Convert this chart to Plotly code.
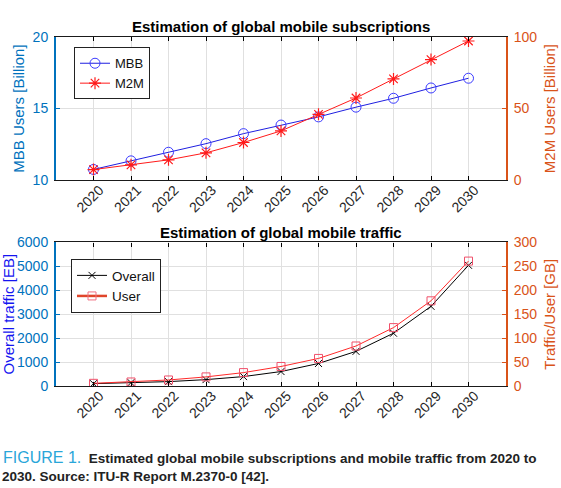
import plotly.graph_objects as go

years = [2020, 2021, 2022, 2023, 2024, 2025, 2026, 2027, 2028, 2029, 2030]
mbb_users = [10.75, 11.35, 11.95, 12.55, 13.25, 13.85, 14.42, 15.1, 15.72, 16.44, 17.12]
m2m_users = [7.4, 10.7, 14.2, 19.1, 26.3, 34.4, 46.0, 57.4, 70.7, 84.2, 97.2]
overall_traffic = [98, 140, 183, 267, 393, 604, 941, 1447, 2206, 3330, 5044]
user_traffic = [5.6, 8.4, 12.6, 19.0, 28.0, 40.8, 57.6, 83.6, 122, 178, 261]
year_labels = [str(y) for y in years]

W, H = 561, 488
L, R, T, B = 56, 55, 36.7, 102
ph = H - T - B
pw = W - L - R

def py(p):  # pixel y -> paper
    return (H - B - p) / ph

def px(p):
    return (p - L) / pw

BLUE = "#0072BD"
ORANGE = "#D95319"
GRID = "#E0E0E0"
FONT = "Liberation Sans, Arial, sans-serif"

fig = go.Figure()
fig.add_trace(go.Scatter(x=years, y=mbb_users, name="MBB", mode="lines+markers",
                         line=dict(color="#1f1fe0", width=1),
                         marker=dict(symbol="circle-open", size=10, color="#3b3bff", line=dict(width=1)),
                         xaxis="x", yaxis="y", legend="legend"))
fig.add_trace(go.Scatter(x=years, y=m2m_users, name="M2M", mode="lines+markers",
                         line=dict(color="#ff1a1a", width=1),
                         marker=dict(symbol="asterisk-open", size=10, color="#ff1a1a", line=dict(width=1.2)),
                         xaxis="x", yaxis="y2", legend="legend"))
fig.add_trace(go.Scatter(x=years, y=overall_traffic, name="Overall", mode="lines+markers",
                         line=dict(color="black", width=1),
                         marker=dict(symbol="x-thin-open", size=7, color="black", line=dict(width=1)),
                         xaxis="x2", yaxis="y3", legend="legend2"))
fig.add_trace(go.Scatter(x=years, y=user_traffic, name="User", mode="lines+markers",
                         line=dict(color="#ff2a2a", width=1),
                         marker=dict(symbol="square-open", size=8, color="#f0506a", line=dict(width=1)),
                         xaxis="x2", yaxis="y4", legend="legend2", showlegend=False))
# legend swatch for "User" (thicker orange-red line as in the reference legend)
fig.add_trace(go.Scatter(x=[None], y=[None], name="User", mode="lines+markers",
                         line=dict(color="#E0452A", width=2.5),
                         marker=dict(symbol="square-open", size=8, color="#F07080", line=dict(width=1)),
                         xaxis="x2", yaxis="y4", legend="legend2"))

xcommon = dict(range=[2019, 2031], tickvals=years, ticktext=year_labels, tickangle=-45,
               ticks="inside", ticklen=4, tickcolor="black", showline=True, linecolor="#1a1a1a",
               linewidth=1.4, mirror="ticks", showgrid=True, gridcolor=GRID, zeroline=False,
               tickfont=dict(family=FONT, size=14, color="#262626"), ticklabelshift=6,
               ticklabelstandoff=-5)

def ycommon(color, rng, dtick, side, grid, title, tcolor, standoff):
    return dict(range=rng, dtick=dtick, side=side, ticks="inside", ticklen=4, tickcolor=color,
                showline=True, linecolor=color, linewidth=2, showgrid=grid, gridcolor=GRID,
                zeroline=False, tickfont=dict(family=FONT, size=14, color=color),
                ticklabelstandoff=3,
                title=dict(text=title, font=dict(family=FONT, size=15, color=tcolor), standoff=standoff))

top_dom = [py(180), 1.0]
bot_dom = [0.0, py(242.3)]

fig.update_layout(
    width=W, height=H, margin=dict(l=L, r=R, t=T, b=B, autoexpand=False),
    paper_bgcolor="white", plot_bgcolor="white", font=dict(family=FONT),
    xaxis=dict(**xcommon, domain=[0, 1], anchor="y"),
    yaxis=dict(**ycommon(BLUE, [10, 20], 5, "left", True, "MBB Users [Billion]", BLUE, 4), domain=top_dom, anchor="x"),
    yaxis2=dict(**ycommon(ORANGE, [0, 100], 50, "right", False, "M2M Users [Billion]", ORANGE, 8),
                overlaying="y", anchor="x"),
    xaxis2=dict(**xcommon, domain=[0, 1], anchor="y3"),
    yaxis3=dict(**ycommon(BLUE, [0, 6000], 1000, "left", True, "Overall traffic [EB]", "#1414F0", 4), domain=bot_dom, anchor="x2"),
    yaxis4=dict(**ycommon(ORANGE, [0, 300], 50, "right", False, "Traffic/User [GB]", ORANGE, 8),
                overlaying="y3", anchor="x2"),
    legend=dict(x=px(74), y=py(47), xanchor="left", yanchor="top", bordercolor="#222", borderwidth=1,
                bgcolor="white", font=dict(family=FONT, size=13, color="#111"), tracegroupgap=0),
    legend2=dict(x=px(71), y=py(259), xanchor="left", yanchor="top", bordercolor="#222", borderwidth=1,
                 bgcolor="white", font=dict(family=FONT, size=13.5, color="#111"), tracegroupgap=0),
    showlegend=True,
    annotations=[
        dict(text="<b>Estimation of global mobile subscriptions</b>", xref="paper", yref="paper",
             x=0.5, y=py(25.7), xanchor="center", yanchor="middle", showarrow=False,
             font=dict(family=FONT, size=15, color="black")),
        dict(text="<b>Estimation of global mobile traffic</b>", xref="paper", yref="paper",
             x=0.5, y=py(232.3), xanchor="center", yanchor="middle", showarrow=False,
             font=dict(family=FONT, size=15, color="black")),
        dict(text="<span style='color:#29A6D9;font-size:16px'>FIGURE 1.</span>  <b>Estimated global mobile subscriptions and mobile traffic from 2020 to</b>",
             xref="paper", yref="paper", x=px(1), y=py(458), xanchor="left", yanchor="middle",
             align="left", showarrow=False, font=dict(family=FONT, size=13.5, color="#222")),
        dict(text="<b>2030. Source: ITU-R Report M.2370-0 [42].</b>",
             xref="paper", yref="paper", x=px(0), y=py(477), xanchor="left", yanchor="middle",
             align="left", showarrow=False, font=dict(family=FONT, size=13.5, color="#222")),
    ],
)

fig.write_html("out.html", config={"displayModeBar": False},
               post_script="document.body.style.margin='0px';")
